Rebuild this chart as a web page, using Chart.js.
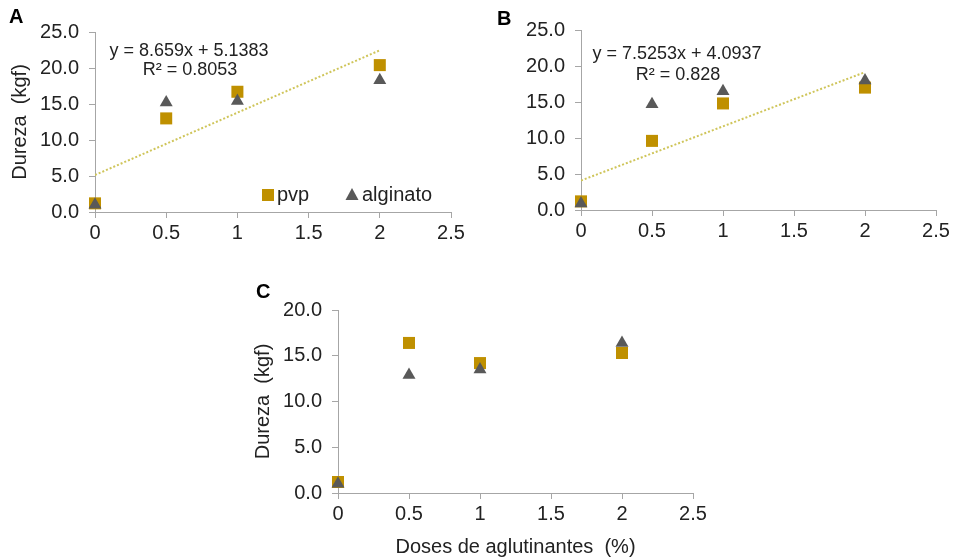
<!DOCTYPE html>
<html>
<head>
<meta charset="utf-8">
<script src="https://cdn.jsdelivr.net/npm/chart.js@4"></script>
<style>
  body { margin: 0; width: 955px; height: 559px; background: #fff; position: relative; overflow: hidden;
         font-family: "Liberation Sans", Arial, sans-serif; }
  canvas { position: absolute; }
  .lbl { position: absolute; color: #000; font-weight: bold; font-size: 20px; }
  .eq { position: absolute; font-size: 18px; color: #222; transform: translate(-50%, -50%); white-space: nowrap; }
</style>
</head>
<body>
<canvas id="chartA" style="left:0;top:0" width="470" height="250"></canvas>
<canvas id="chartB" style="left:480px;top:0" width="475" height="250"></canvas>
<canvas id="chartC" style="left:230px;top:270px" width="490" height="289"></canvas>

<div class="lbl" style="left:9px;top:5px">A</div>
<div class="lbl" style="left:497px;top:7px">B</div>
<div class="lbl" style="left:256px;top:280px">C</div>

<div class="eq" style="left:189px;top:50px">y = 8.659x + 5.1383</div>
<div class="eq" style="left:190px;top:69px">R² = 0.8053</div>
<div class="eq" style="left:677px;top:53px">y = 7.5253x + 4.0937</div>
<div class="eq" style="left:678px;top:74px">R² = 0.828</div>

<script>
// doses (%)
const doses = [0, 0.5, 1, 2];

// Dureza (kgf)
const pvpA = [1.2, 13.0, 16.7, 20.4];
const alginatoA = [1.0, 15.2, 15.4, 18.3];
const pvpB = [1.2, 9.6, 14.8, 17.0];
const alginatoB = [0.9, 14.7, 16.5, 18.0];
const pvpC = [1.2, 16.4, 14.2, 15.3];
const alginatoC = [1.0, 12.9, 13.5, 16.4];

// linhas de tendência (extremos em x = 0 e x = 2)
const trendX = [0, 2];
const trendA = [5.1383, 22.4563];
const trendB = [4.0937, 19.1443];

const gold = '#BF9000';
const gray = '#595959';
const axisColor = '#A6A6A6';
const fontFam = '"Liberation Sans", Arial, sans-serif';

function pts(xs, ys) {
  return xs.map((x, i) => ({ x: x, y: ys[i] }));
}

function makeChart(id, opts) {
  const datasets = [];
  if (opts.trend) {
    datasets.push({
      type: 'line',
      data: pts(trendX, opts.trend),
      borderColor: '#CFC55A',
      borderWidth: 2,
      borderDash: [2, 2],
      pointRadius: 0,
      fill: false,
      order: 3
    });
  }
  datasets.push({
    label: 'pvp',
    data: pts(doses, opts.pvp),
    pointStyle: 'rect',
    pointRadius: 8.5,
    backgroundColor: gold,
    borderColor: gold,
    borderWidth: 0,
    clip: false,
    order: 2
  });
  datasets.push({
    label: 'alginato',
    data: pts(doses, opts.alg),
    pointStyle: 'triangle',
    pointRadius: 7.5,
    backgroundColor: gray,
    borderColor: gray,
    borderWidth: 0,
    clip: false,
    order: 1
  });

  return new Chart(document.getElementById(id), {
    type: 'scatter',
    data: { datasets: datasets },
    options: {
      responsive: false,
      animation: false,
      layout: { padding: { left: 0, top: opts.top, right: opts.right, bottom: 0 } },
      plugins: { legend: { display: false }, tooltip: { enabled: false } },
      scales: {
        x: {
          type: 'linear',
          min: 0, max: 2.5,
          ticks: { stepSize: 0.5, color: '#222', font: { family: fontFam, size: 20 }, padding: 3,
                   callback: v => String(v) },
          grid: { drawOnChartArea: false, drawTicks: true, tickLength: 6, color: axisColor },
          border: { color: axisColor, width: 1 },
          title: {
            display: !!opts.xTitle, text: opts.xTitle || '', color: '#222',
            font: { family: fontFam, size: 20 }, padding: { top: 0, bottom: 0 }
          },
          afterFit: s => { s.height = opts.xH; s.paddingLeft = 0; s.paddingRight = 0; }
        },
        y: {
          min: 0, max: opts.yMax,
          ticks: { stepSize: 5, color: '#222', font: { family: fontFam, size: 20 }, padding: 10,
                   callback: v => v.toFixed(1) },
          grid: { drawOnChartArea: false, drawTicks: true, tickLength: 6, color: axisColor },
          border: { color: axisColor, width: 1 },
          title: {
            display: !!opts.yTitle, text: opts.yTitle || '', color: '#222',
            font: { family: fontFam, size: 20 }, padding: { top: opts.yTitlePad || 0, bottom: 0 }
          },
          afterFit: s => { s.width = opts.yW; s.paddingTop = 0; s.paddingBottom = 0; }
        }
      }
    },
    plugins: opts.legend ? [legendPlugin] : []
  });
}

// legenda dentro da área do gráfico A
const legendPlugin = {
  id: 'innerLegend',
  afterDraw(chart) {
    const ctx = chart.ctx;
    const y = 195;
    ctx.save();
    ctx.fillStyle = gold;
    ctx.fillRect(262, y - 6, 12, 12);
    ctx.fillStyle = gray;
    ctx.beginPath();
    ctx.moveTo(352, y - 7);
    ctx.lineTo(358.5, y + 5);
    ctx.lineTo(345.5, y + 5);
    ctx.closePath();
    ctx.fill();
    ctx.fillStyle = '#222';
    ctx.font = '20px ' + fontFam;
    ctx.textBaseline = 'middle';
    ctx.fillText('pvp', 277, y);
    ctx.fillText('alginato', 362, y);
    ctx.restore();
  }
};

makeChart('chartA', {
  pvp: pvpA, alg: alginatoA, trend: trendA, yMax: 25,
  top: 32, right: 19, yW: 95, xH: 38,
  yTitle: 'Dureza  (kgf)', yTitlePad: 8, legend: true
});

makeChart('chartB', {
  pvp: pvpB, alg: alginatoB, trend: trendB, yMax: 25,
  top: 30, right: 19, yW: 101, xH: 40
});

makeChart('chartC', {
  pvp: pvpC, alg: alginatoC, yMax: 20,
  top: 40, right: 27, yW: 108, xH: 66,
  yTitle: 'Dureza  (kgf)', yTitlePad: 21,
  xTitle: 'Doses de aglutinantes  (%)'
});
</script>
</body>
</html>
